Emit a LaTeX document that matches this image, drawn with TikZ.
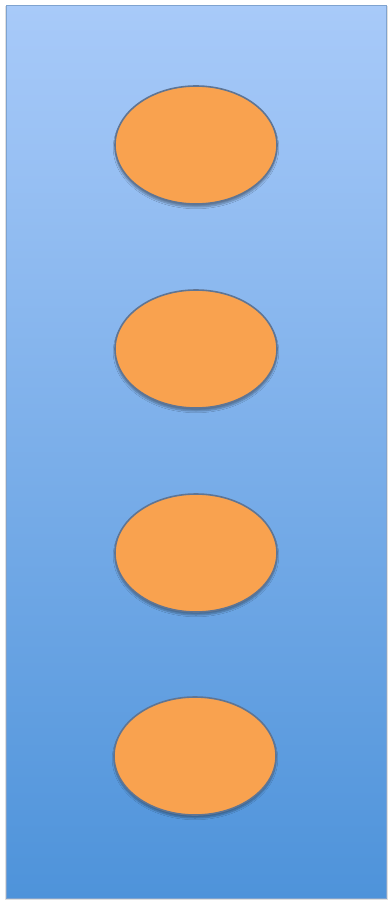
\documentclass[tikz,border=0pt]{standalone}
\usetikzlibrary{shadows.blur,shapes.geometric}
\definecolor{topblue}{HTML}{A8CAF9}
\definecolor{botblue}{HTML}{4E93DA}
\definecolor{orangefill}{HTML}{F9A24F}
\definecolor{ovaledge}{HTML}{5F7594}
\definecolor{paneledge}{HTML}{7FA3CF}
\tikzset{
  panel/.style={draw=paneledge, line width=0.8pt, top color=topblue, bottom color=botblue},
  oval/.style={ellipse, draw=ovaledge, line width=1.6pt, fill=orangefill,
    minimum width=162pt, minimum height=118pt, inner sep=0pt,
    blur shadow={shadow xshift=0pt, shadow yshift=-3pt, shadow blur steps=6, shadow opacity=35}}
}
\begin{document}
\begin{tikzpicture}[x=1pt,y=-1pt]
\useasboundingbox (0,0) rectangle (390,904);
\fill[white] (0,0) rectangle (390,904);
\fill[gray!25] (5,6) rectangle (388,900);
\node[panel, minimum width=380pt, minimum height=893pt, inner sep=0pt, anchor=north west] (bg) at (6,5) {};
\node[oval] (o1) at (196,145) {};
\node[oval] (o2) at (196,349) {};
\node[oval] (o3) at (196,553) {};
\node[oval] (o4) at (195,756) {};
\end{tikzpicture}
\end{document}
